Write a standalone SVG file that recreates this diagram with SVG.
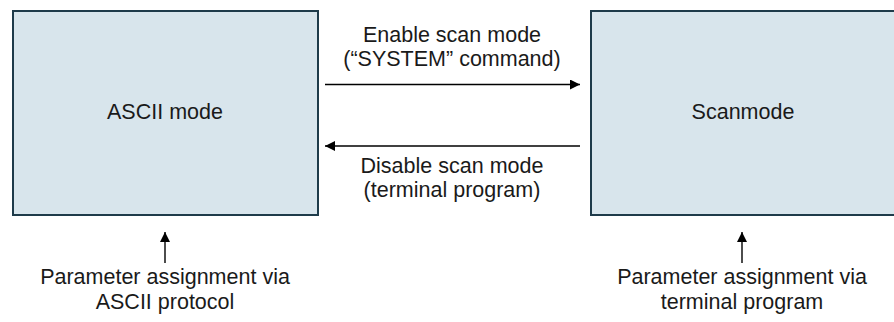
<svg xmlns="http://www.w3.org/2000/svg" width="894" height="322" viewBox="0 0 894 322">
<style>
.box{fill:#d8e5ec;stroke:#1e3b4a;stroke-width:2}
.t{font-family:"Liberation Sans",Arial,sans-serif;font-size:21.5px;fill:#1a1a1a;text-anchor:middle}
.c{stroke:#000;stroke-width:1.4;fill:none}
</style>
<defs>
<marker id="ah" viewBox="0 0 10 10" refX="10" refY="5" markerWidth="10" markerHeight="10" markerUnits="userSpaceOnUse" orient="auto">
<path d="M0,0 L10,5 L0,10 Z" fill="#000"/>
</marker>
</defs>
<rect width="894" height="322" fill="#fff"/>
<g id="ascii">
<rect class="box" x="13" y="11" width="305" height="204"/>
<text class="t" x="165" y="119">ASCII mode</text>
</g>
<g id="scanmode">
<rect class="box" x="591" y="11" width="306" height="204"/>
<text class="t" x="743" y="119">Scanmode</text>
</g>
<g id="connectors">
<line class="c" x1="325" y1="84.5" x2="580" y2="84.5" marker-end="url(#ah)"/>
<line class="c" x1="580" y1="146" x2="325" y2="146" marker-end="url(#ah)"/>
<line class="c" x1="165" y1="263" x2="165" y2="232" marker-end="url(#ah)"/>
<line class="c" x1="742" y1="263" x2="742" y2="232" marker-end="url(#ah)"/>
</g>
<g id="labels">
<text class="t" x="452" y="41.5">Enable scan mode</text>
<text class="t" x="452" y="65.5">(“SYSTEM” command)</text>
<text class="t" x="452" y="172.5">Disable scan mode</text>
<text class="t" x="452" y="196.5">(terminal program)</text>
</g>
<g id="ascii-input">
<text class="t" x="165" y="284">Parameter assignment via</text>
<text class="t" x="165" y="309">ASCII protocol</text>
</g>
<g id="scan-input">
<text class="t" x="742" y="284">Parameter assignment via</text>
<text class="t" x="742" y="309">terminal program</text>
</g>
</svg>
